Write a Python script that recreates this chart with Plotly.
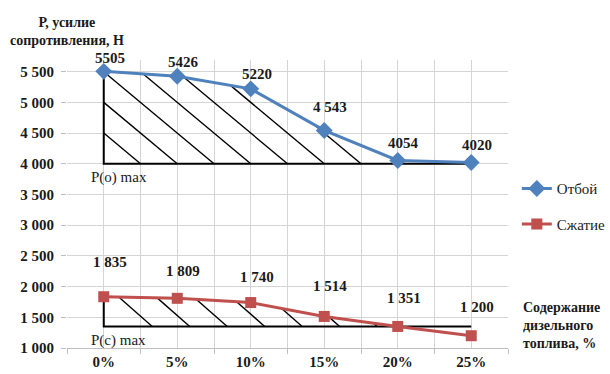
import numpy as np
import plotly.graph_objects as go

# ---- data -------------------------------------------------------------
diesel_pct = [0, 5, 10, 15, 20, 25]
x_labels = ["0%", "5%", "10%", "15%", "20%", "25%"]

rebound = [5505, 5426, 5220, 4543, 4054, 4020]          # Отбой
rebound_text = ["5505", "5426", "5220", "4 543", "4054", "4020"]

compression = [1835, 1809, 1740, 1514, 1351, 1200]       # Сжатие
compression_text = ["1 835", "1 809", "1 740", "1 514", "1 351", "1 200"]

y_ticks = [1000, 1500, 2000, 2500, 3000, 3500, 4000, 4500, 5000, 5500]
y_tick_text = ["1 000", "1 500", "2 000", "2 500", "3 000",
               "3 500", "4 000", "4 500", "5 000", "5 500"]

p_o_max = 4000                    # reference level under the rebound curve
p_c_max = compression[4]          # reference level under the compression curve

# ---- label placement (pixels above each point) ------------------------
rebound_lift = [13, 14, 15, 23, 17, 18]
compression_lift = [35, 27, 26, 30, 28, 29]

BLUE = "#4F81BD"
RED = "#C0504D"
SERIF = "'Liberation Serif', 'Times New Roman', Tinos, 'DejaVu Serif', serif"
INK = "#1a1a1a"


def hatch_segments(xs, ys, base, ends, slope):
    """Diagonal hatch lines under a curve: each starts on the curve
    and runs down-right to the base level at one of `ends`."""
    seg_x, seg_y = [], []
    for xe in ends:
        grid = np.linspace(0, xe, 4001)
        line = base + slope * (xe - grid)
        curve = np.interp(grid, xs, ys)
        below = curve - line >= 0
        bad = np.where(~below)[0]
        i0 = bad[-1] + 1 if len(bad) else 0
        if i0 >= len(grid) - 1:
            continue
        x0 = grid[i0]
        seg_x += [x0, xe, None]
        seg_y += [base + slope * (xe - x0), base, None]
    return seg_x, seg_y


fig = go.Figure()

# hatching under the rebound curve
hx, hy = hatch_segments(diesel_pct, rebound, p_o_max,
                        [2.5, 5, 7.5, 10, 12.5, 15, 17.5], 200)
fig.add_trace(go.Scatter(x=hx, y=hy, mode="lines", showlegend=False,
                         line=dict(color="black", width=1.4), hoverinfo="skip"))
# hatching under the compression curve
cx, cy = hatch_segments(diesel_pct, compression, p_c_max,
                        [3.3 + 2.55 * k for k in range(7)], 210)
fig.add_trace(go.Scatter(x=cx, y=cy, mode="lines", showlegend=False,
                         line=dict(color="black", width=1.4), hoverinfo="skip"))

# outlines of the hatched zones
for top, base in ((rebound[0], p_o_max), (compression[0], p_c_max)):
    fig.add_trace(go.Scatter(
        x=[diesel_pct[0], diesel_pct[0], diesel_pct[-1]],
        y=[top, base, base], mode="lines", showlegend=False,
        line=dict(color="black", width=2), hoverinfo="skip"))

# data series
fig.add_trace(go.Scatter(
    x=diesel_pct, y=rebound, name="Отбой", mode="lines+markers",
    legendgroup="a",
    line=dict(color=BLUE, width=3),
    marker=dict(symbol="diamond", size=13, color=BLUE)))
fig.add_trace(go.Scatter(
    x=diesel_pct, y=compression, name="Сжатие", mode="lines+markers",
    legendgroup="b",
    line=dict(color=RED, width=3),
    marker=dict(symbol="square", size=11, color=RED)))

# value labels
for xs, ys, texts, lifts in ((diesel_pct, rebound, rebound_text, rebound_lift),
                             (diesel_pct, compression, compression_text, compression_lift)):
    for xv, yv, t, lift in zip(xs, ys, texts, lifts):
        fig.add_annotation(x=xv, y=yv, text=f"<b>{t}</b>", showarrow=False,
                           xshift=6, yshift=lift,
                           font=dict(family=SERIF, size=15, color=INK))

# zone captions
fig.add_annotation(x=diesel_pct[0], y=p_o_max, text="P(o) max", showarrow=False,
                   xanchor="left", xshift=-15, yshift=-14,
                   font=dict(family=SERIF, size=15, color=INK))
fig.add_annotation(x=diesel_pct[0], y=p_c_max, text="P(c) max", showarrow=False,
                   xanchor="left", xshift=-15, yshift=-14,
                   font=dict(family=SERIF, size=15, color=INK))

# axis titles
fig.add_annotation(xref="paper", yref="paper", x=0.0, y=1.10,
                   text="<b>Р, усилие<br>сопротивления, Н</b>", showarrow=False,
                   xanchor="center", yanchor="middle", align="center",
                   font=dict(family=SERIF, size=14, color=INK))
fig.add_annotation(xref="paper", yref="paper", x=1.03, y=0.078,
                   text="<b>Содержание<br>дизельного<br>топлива, %</b>", showarrow=False,
                   xanchor="left", yanchor="middle", align="left",
                   font=dict(family=SERIF, size=14, color=INK))

GRID = "#d4d4d4"
fig.update_xaxes(
    range=[-2.5, 27.5], tickvals=diesel_pct, ticktext=[f"<b>{t}</b>" for t in x_labels],
    showgrid=True, gridcolor=GRID, gridwidth=1,
    showline=True, linecolor="#bfbfbf", linewidth=1,
    ticks="", zeroline=False,
    tickfont=dict(family=SERIF, size=15, color=INK),
    minor=dict(tick0=-2.5, dtick=5, showgrid=True, gridcolor=GRID,
               ticks="outside", ticklen=5, tickcolor="#bfbfbf"),
)
fig.update_yaxes(
    range=[1000, 5690], tickvals=y_ticks, ticktext=[f"<b>{t}</b>" for t in y_tick_text],
    showgrid=True, gridcolor=GRID, gridwidth=1,
    showline=False, zeroline=False,
    ticks="outside", ticklen=5, tickcolor="#bfbfbf", ticklabelstandoff=4,
    tickfont=dict(family=SERIF, size=15, color=INK),
)

fig.update_layout(
    width=610, height=374,
    margin=dict(l=67, r=102, t=60, b=26, autoexpand=False),
    plot_bgcolor="white", paper_bgcolor="white",
    font=dict(family=SERIF),
    legend=dict(x=1.02, y=0.61, xanchor="left", yanchor="top",
                traceorder="grouped", tracegroupgap=13,
                bgcolor="rgba(0,0,0,0)",
                font=dict(family=SERIF, size=15, color=INK)),
)

fig.write_html("out.html")
